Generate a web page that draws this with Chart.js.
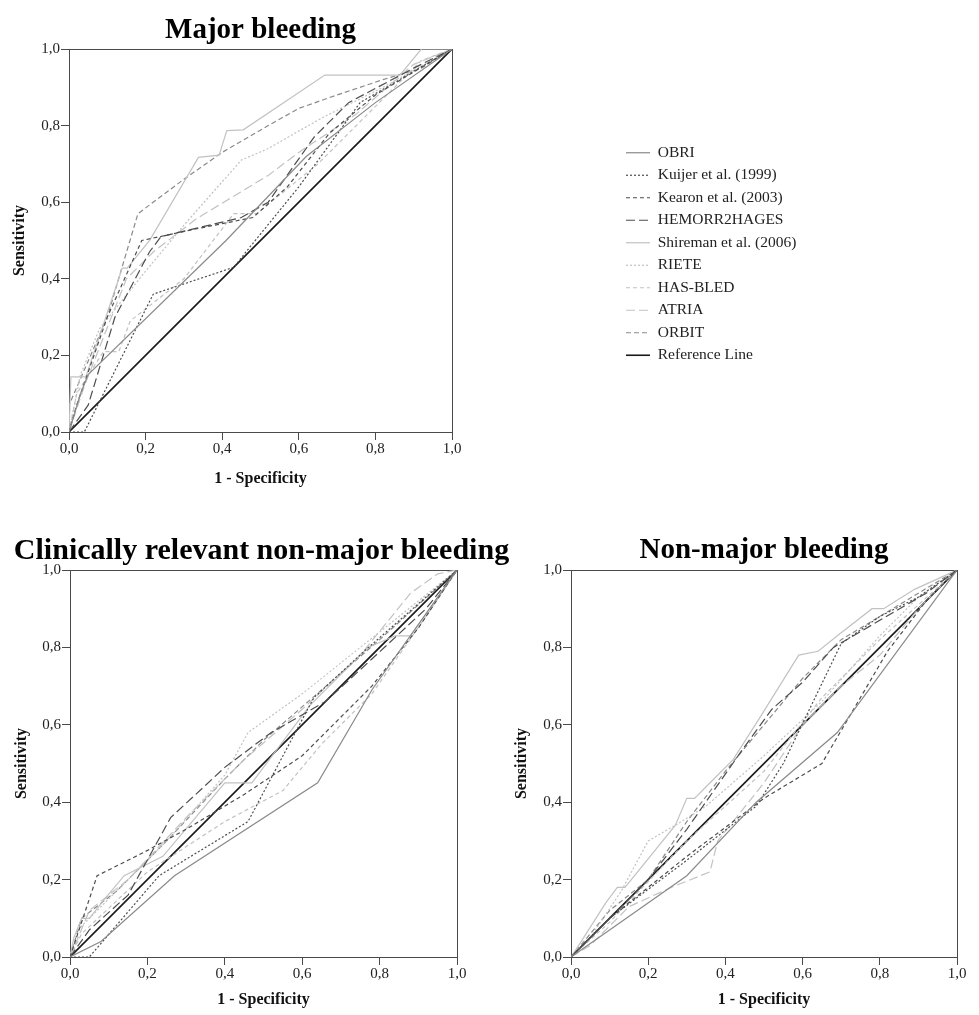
<!DOCTYPE html>
<html lang="en">
<head>
  <meta charset="UTF-8">
  <title>ROC curves - bleeding risk scores</title>
  <script src="https://cdn.jsdelivr.net/npm/chart.js@4.4.1/dist/chart.umd.min.js"></script>
  <style>
    body { margin: 0; background: #fff; overflow: hidden; }
    canvas { position: absolute; }
    #rocMajor { left: 0; top: 0; }
    #rocCrnm { left: 0; top: 520px; }
    #rocNonMajor { left: 500px; top: 520px; }
  </style>
</head>
<body>
  <canvas id="rocMajor" width="804" height="508"></canvas>
  <canvas id="rocCrnm" width="523" height="495"></canvas>
  <canvas id="rocNonMajor" width="477" height="495"></canvas>
  <script>
    const serif = "'Liberation Serif', 'Times New Roman', serif";

    // series names (legend order)
    const scoreNames = [
      "OBRI", "Kuijer et al. (1999)", "Kearon et al. (2003)", "HEMORR2HAGES",
      "Shireman et al. (2006)", "RIETE", "HAS-BLED", "ATRIA", "ORBIT", "Reference Line"
    ];
    const lineColors = ["#8a8a8a", "#4d4d4d", "#4d4d4d", "#4d4d4d", "#c2c2c2",
                        "#c2c2c2", "#c2c2c2", "#c2c2c2", "#8a8a8a", "#1a1a1a"];
    const lineDashes = [[], [2, 2], [4, 3], [9, 4], [], [2, 2], [4, 3], [9, 4], [5, 3], []];
    const lineWidths = [1.2, 1.2, 1.2, 1.2, 1.2, 1.2, 1.2, 1.2, 1.2, 1.6];
    const tickLabels = ["0,0", "0,2", "0,4", "0,6", "0,8", "1,0"];

    const referenceLine = [[0, 0], [1, 1]];

    // Major bleeding: [1 - specificity, sensitivity]
    const majOBRI = [[0, 0], [0.03, 0.1], [0.05, 0.15], [0.41, 0.5], [0.62, 0.72], [0.8, 0.86], [1, 1]];
    const majKuijer = [[0, 0], [0.04, 0], [0.22, 0.36], [0.43, 0.43], [0.47, 0.48], [0.6, 0.64], [0.76, 0.86], [1, 1]];
    const majKearon = [[0, 0], [0.02, 0.07], [0.1, 0.3], [0.19, 0.5], [0.33, 0.53], [0.48, 0.56], [0.57, 0.64], [0.68, 0.78], [0.8, 0.88], [1, 1]];
    const majHemorr = [[0, 0], [0.05, 0.07], [0.12, 0.3], [0.21, 0.47], [0.24, 0.51], [0.45, 0.56], [0.52, 0.6], [0.64, 0.77], [0.73, 0.86], [0.9, 0.95], [1, 1]];
    const majShireman = [[0, 0], [0.005, 0.144], [0.044, 0.144], [0.139, 0.428], [0.152, 0.428], [0.211, 0.501], [0.338, 0.717], [0.392, 0.723], [0.412, 0.787], [0.455, 0.789], [0.668, 0.932], [0.864, 0.932], [0.92, 1], [1, 1]];
    const majRiete = [[0, 0], [0.03, 0.15], [0.08, 0.27], [0.2, 0.42], [0.3, 0.54], [0.45, 0.71], [0.52, 0.74], [0.66, 0.82], [0.82, 0.9], [1, 1]];
    const majHasBled = [[0, 0], [0.02, 0.1], [0.09, 0.21], [0.13, 0.21], [0.16, 0.29], [0.3, 0.4], [0.43, 0.57], [0.49, 0.57], [0.65, 0.7], [0.8, 0.85], [0.92, 0.97], [1, 1]];
    const majAtria = [[0, 0], [0.04, 0.12], [0.15, 0.4], [0.22, 0.47], [0.33, 0.555], [0.52, 0.67], [0.6, 0.73], [0.75, 0.83], [0.9, 0.96], [1, 1]];
    const majOrbit = [[0, 0], [0, 0.07], [0.1, 0.3], [0.18, 0.57], [0.3, 0.66], [0.4, 0.73], [0.52, 0.8], [0.6, 0.845], [0.7, 0.88], [0.82, 0.92], [0.92, 0.95], [1, 1]];

    // Clinically relevant non-major bleeding
    const crnOBRI = [[0, 0], [0.08, 0.04], [0.27, 0.21], [0.64, 0.45], [0.78, 0.69], [1, 1]];
    const crnKuijer = [[0, 0], [0.05, 0], [0.23, 0.21], [0.46, 0.35], [0.63, 0.67], [0.76, 0.79], [1, 1]];
    const crnKearon = [[0, 0], [0.07, 0.21], [0.19, 0.27], [0.3, 0.33], [0.45, 0.42], [0.6, 0.52], [0.78, 0.7], [0.9, 0.85], [1, 1]];
    const crnHemorr = [[0, 0], [0.05, 0.07], [0.15, 0.16], [0.26, 0.36], [0.4, 0.49], [0.52, 0.58], [0.66, 0.66], [0.78, 0.77], [0.92, 0.9], [1, 1]];
    const crnShireman = [[0, 0], [0.01, 0.05], [0.03, 0.1], [0.05, 0.1], [0.09, 0.15], [0.14, 0.21], [0.24, 0.26], [0.4, 0.45], [0.47, 0.45], [0.62, 0.65], [0.77, 0.8], [0.84, 0.83], [0.88, 0.83], [1, 1]];
    const crnRiete = [[0, 0], [0.02, 0.07], [0.1, 0.15], [0.25, 0.3], [0.4, 0.47], [0.46, 0.58], [0.6, 0.68], [0.75, 0.8], [0.9, 0.92], [1, 1]];
    const crnHasBled = [[0, 0], [0.03, 0.06], [0.2, 0.22], [0.4, 0.35], [0.55, 0.43], [0.65, 0.55], [0.78, 0.68], [0.92, 0.88], [1, 1]];
    const crnAtria = [[0, 0], [0.05, 0.12], [0.15, 0.2], [0.3, 0.36], [0.45, 0.51], [0.6, 0.64], [0.75, 0.78], [0.88, 0.94], [0.95, 0.99], [1, 1]];
    const crnOrbit = [[0, 0], [0.03, 0.1], [0.12, 0.17], [0.25, 0.3], [0.4, 0.46], [0.5, 0.56], [0.65, 0.69], [0.8, 0.82], [1, 1]];

    // Non-major bleeding
    const nmbOBRI = [[0, 0], [0.1, 0.07], [0.3, 0.21], [0.48, 0.4], [0.69, 0.58], [1, 1]];
    const nmbKuijer = [[0, 0], [0.1, 0.1], [0.3, 0.25], [0.48, 0.39], [0.55, 0.5], [0.7, 0.81], [0.8, 0.88], [0.9, 0.93], [1, 1]];
    const nmbKearon = [[0, 0], [0.1, 0.1], [0.3, 0.26], [0.5, 0.41], [0.65, 0.5], [0.82, 0.79], [0.92, 0.92], [1, 1]];
    const nmbHemorr = [[0, 0], [0.1, 0.1], [0.2, 0.2], [0.3, 0.33], [0.44, 0.53], [0.52, 0.64], [0.6, 0.71], [0.68, 0.8], [0.8, 0.87], [0.92, 0.94], [1, 1]];
    const nmbShireman = [[0, 0], [0.02, 0.03], [0.09, 0.14], [0.12, 0.18], [0.14, 0.18], [0.27, 0.34], [0.3, 0.41], [0.32, 0.41], [0.35, 0.44], [0.42, 0.51], [0.49, 0.62], [0.59, 0.78], [0.64, 0.79], [0.69, 0.83], [0.78, 0.9], [0.81, 0.9], [0.89, 0.95], [1, 1]];
    const nmbRiete = [[0, 0], [0.05, 0.05], [0.13, 0.17], [0.2, 0.3], [0.27, 0.34], [0.35, 0.39], [0.5, 0.52], [0.65, 0.66], [0.8, 0.83], [0.9, 0.93], [1, 1]];
    const nmbHasBled = [[0, 0], [0.1, 0.09], [0.3, 0.3], [0.5, 0.48], [0.65, 0.67], [0.8, 0.82], [1, 1]];
    const nmbAtria = [[0, 0], [0.05, 0.03], [0.15, 0.13], [0.26, 0.18], [0.36, 0.22], [0.38, 0.3], [0.5, 0.45], [0.6, 0.6], [0.7, 0.7], [0.8, 0.78], [0.9, 0.9], [1, 1]];
    const nmbOrbit = [[0, 0], [0.1, 0.12], [0.2, 0.2], [0.3, 0.35], [0.4, 0.48], [0.5, 0.6], [0.6, 0.72], [0.7, 0.82], [0.8, 0.88], [0.9, 0.94], [1, 1]];

    const majorSeries = [majOBRI, majKuijer, majKearon, majHemorr, majShireman, majRiete, majHasBled, majAtria, majOrbit, referenceLine];
    const crnmSeries = [crnOBRI, crnKuijer, crnKearon, crnHemorr, crnShireman, crnRiete, crnHasBled, crnAtria, crnOrbit, referenceLine];
    const nonMajorSeries = [nmbOBRI, nmbKuijer, nmbKearon, nmbHemorr, nmbShireman, nmbRiete, nmbHasBled, nmbAtria, nmbOrbit, referenceLine];

    Chart.defaults.font.family = serif;
    const frame = "#4a4a4a";

    function buildDatasets(series) {
      return scoreNames.map((name, i) => ({
        label: name,
        data: series[i].map(p => ({ x: p[0], y: p[1] })),
        borderColor: lineColors[i],
        backgroundColor: lineColors[i],
        borderDash: lineDashes[i],
        borderWidth: lineWidths[i],
        pointRadius: 0,
        tension: 0,
        fill: false
      }));
    }

    // legend items keep the line dash of each dataset
    function legendItems(chart) {
      return chart.data.datasets.map((ds, i) => ({
        text: ds.label,
        strokeStyle: ds.borderColor,
        fillStyle: ds.borderColor,
        lineWidth: ds.borderWidth,
        lineDash: ds.borderDash,
        pointStyle: "line",
        fontColor: "#222",
        hidden: false,
        datasetIndex: i
      }));
    }

    function buildScales(p) {
      const tickFont = { family: serif, size: 15 };
      const titleFont = { family: serif, size: 16, weight: "bold" };
      return {
        x: {
          type: "linear", position: "bottom", min: 0, max: 1,
          ticks: { stepSize: 0.2, autoSkip: false, maxRotation: 0, padding: 0, color: "#222", font: tickFont,
                   callback: v => tickLabels[Math.round(v * 5)] },
          grid: { drawOnChartArea: false, tickLength: 8, color: frame },
          border: { color: frame },
          title: { display: true, text: "1 - Specificity", color: "#111", font: titleFont,
                   padding: { top: 0, bottom: p.xTitlePad } },
          afterFit: s => { s.height = p.xHeight; }
        },
        y: {
          type: "linear", position: "left", min: 0, max: 1,
          ticks: { stepSize: 0.2, autoSkip: false, padding: 1, color: "#222", font: tickFont,
                   callback: v => tickLabels[Math.round(v * 5)] },
          grid: { drawOnChartArea: false, tickLength: 8, color: frame },
          border: { color: frame },
          title: { display: true, text: "Sensitivity", color: "#111", font: titleFont,
                   padding: { top: p.yTitlePad, bottom: 0 } },
          afterFit: s => { s.width = p.yWidth; }
        },
        xTop: {
          axis: "x", type: "linear", position: "top", min: 0, max: 1,
          ticks: { display: false },
          grid: { drawOnChartArea: false, drawTicks: false },
          border: { color: frame },
          afterFit: s => { s.height = 0; }
        },
        yRight: {
          axis: "y", type: "linear", position: "right", min: 0, max: 1,
          ticks: { display: false },
          grid: { drawOnChartArea: false, drawTicks: false },
          border: { color: frame },
          afterFit: s => { s.width = p.gap; }
        }
      };
    }

    function makeRoc(id, title, series, p) {
      return new Chart(document.getElementById(id), {
        type: "line",
        data: { datasets: buildDatasets(series) },
        options: {
          responsive: false,
          animation: false,
          events: [],
          scales: buildScales(p),
          plugins: {
            tooltip: { enabled: false },
            title: {
              display: true, text: title, color: "#000", fullSize: p.titleFull,
              font: { family: serif, size: p.titleSize, weight: "bold" },
              padding: { top: p.titleTop, bottom: p.titleBottom }
            },
            legend: p.legend ? {
              display: true, position: "right", align: "center", maxWidth: 185,
              labels: { usePointStyle: true, pointStyle: "line", pointStyleWidth: 24, padding: 7,
                        color: "#222", font: { family: serif, size: 15.5 },
                        generateLabels: legendItems }
            } : { display: false }
          }
        }
      });
    }

    makeRoc("rocMajor", "Major bleeding", majorSeries, {
      yWidth: 69, xHeight: 76, gap: 167, xTitlePad: 19.4, yTitlePad: 10.4,
      titleFull: false, titleSize: 29, titleTop: 13, titleBottom: 1.2, legend: true
    });
    makeRoc("rocCrnm", "Clinically relevant non-major bleeding", crnmSeries, {
      yWidth: 70, xHeight: 58, gap: 66, xTitlePad: 5.4, yTitlePad: 12.4,
      titleFull: true, titleSize: 30, titleTop: 13, titleBottom: 1, legend: false
    });
    makeRoc("rocNonMajor", "Non-major bleeding", nonMajorSeries, {
      yWidth: 71, xHeight: 58, gap: 20, xTitlePad: 5.4, yTitlePad: 12.4,
      titleFull: false, titleSize: 29, titleTop: 13.6, titleBottom: 1.6, legend: false
    });
  </script>
</body>
</html>
